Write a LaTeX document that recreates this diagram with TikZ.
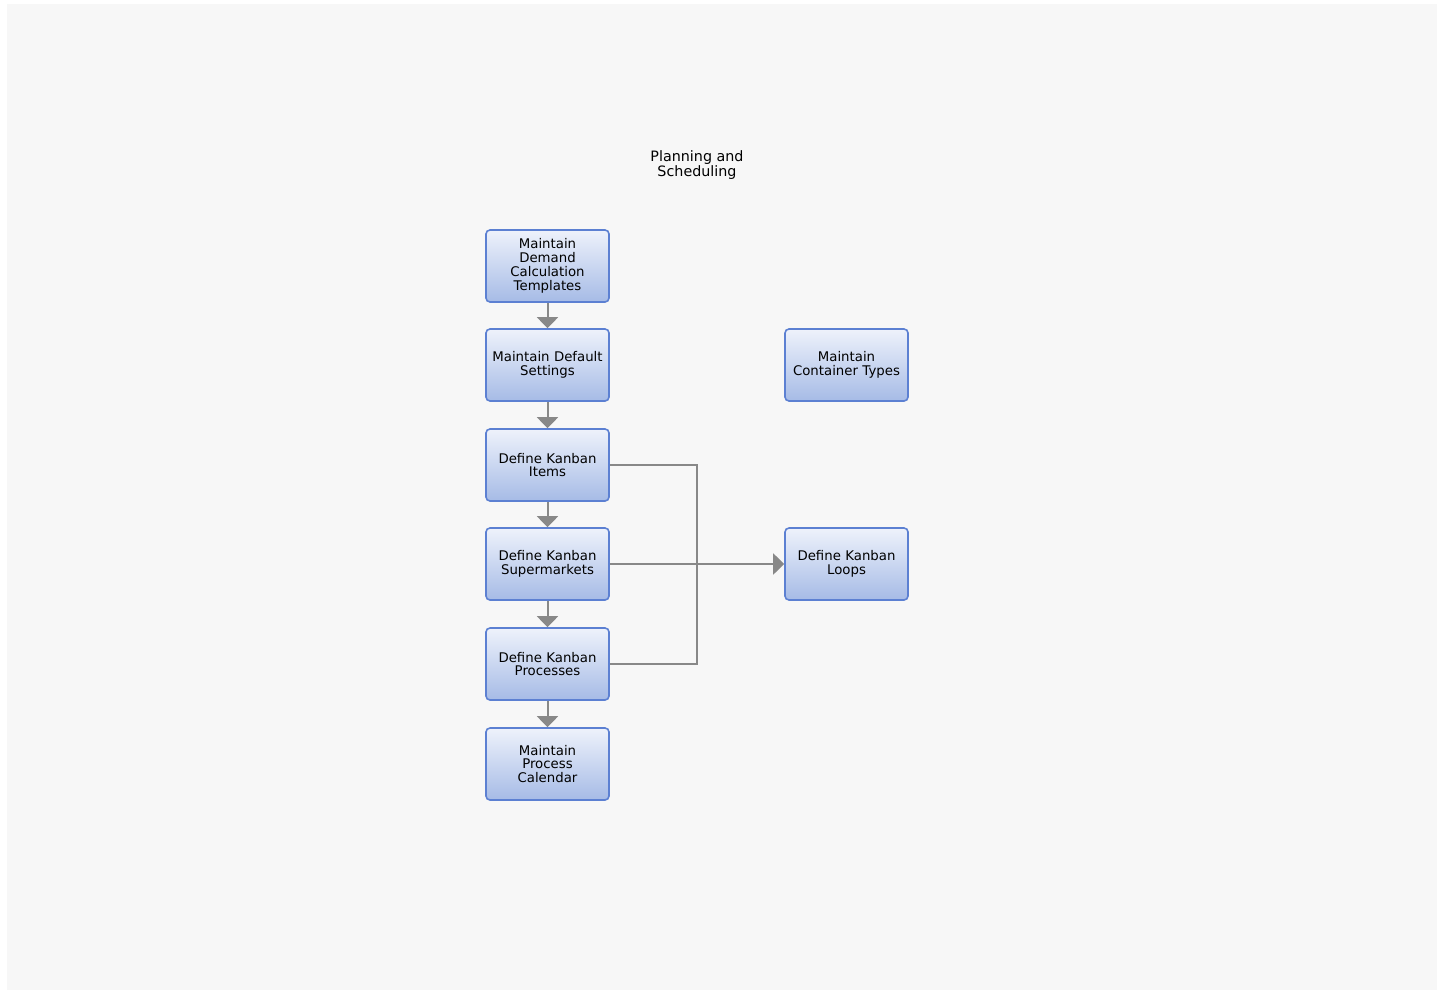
\documentclass[tikz,border=0pt]{standalone}
\usepackage{fontspec}
\setmainfont{DejaVu Sans}
\usetikzlibrary{arrows.meta}
\definecolor{bgc}{HTML}{F7F7F7}
\definecolor{boxtop}{HTML}{EEF2FB}
\definecolor{boxbot}{HTML}{A6BBE6}
\definecolor{boxline}{HTML}{5C80D2}
\definecolor{conn}{HTML}{888888}
\tikzset{
  taskbox/.style={draw=boxline, line width=1.6pt, rounded corners=4pt,
    top color=boxtop, bottom color=boxbot, minimum width=123pt, minimum height=72pt,
    inner sep=0pt, align=center, font=\fontsize{13.3}{13.8}\selectfont, text width=123pt},
  conn/.style={draw=conn, line width=2pt},
  arr/.style={conn, -{Triangle[length=11pt,width=21pt]}},
  title/.style={align=center, font=\fontsize{14.3}{15}\selectfont}
}
\begin{document}
\begin{tikzpicture}[x=1pt,y=-1pt]
\useasboundingbox (0,0) rectangle (1439,993);
\fill[white] (0,0) rectangle (1439,993);
\fill[bgc] (7,4) rectangle (1437,990);
\node[title] (t) at (697,165) {Planning and\\Scheduling};
\node[taskbox] (b1) at (547.5,266) {Maintain\\Demand\\Calculation\\Templates};
\node[taskbox] (b2) at (547.5,365) {Maintain Default\\Settings};
\node[taskbox] (b3) at (547.5,465) {Define Kanban\\Items};
\node[taskbox] (b4) at (547.5,564) {Define Kanban\\Supermarkets};
\node[taskbox] (b5) at (547.5,664) {Define Kanban\\Processes};
\node[taskbox] (b6) at (547.5,764) {Maintain\\Process\\Calendar};
\node[taskbox] (c1) at (846.5,365) {Maintain\\Container Types};
\node[taskbox] (c2) at (846.5,564) {Define Kanban\\Loops};
\coordinate (j) at (697,465);
\draw[arr] (b1) -- (b2);
\draw[arr] (b2) -- (b3);
\draw[arr] (b3) -- (b4);
\draw[arr] (b4) -- (b5);
\draw[arr] (b5) -- (b6);
\draw[conn] (b3.east) -| (j) |- (b5.east);
\draw[arr] (b4) -- (c2);
\end{tikzpicture}
\end{document}
